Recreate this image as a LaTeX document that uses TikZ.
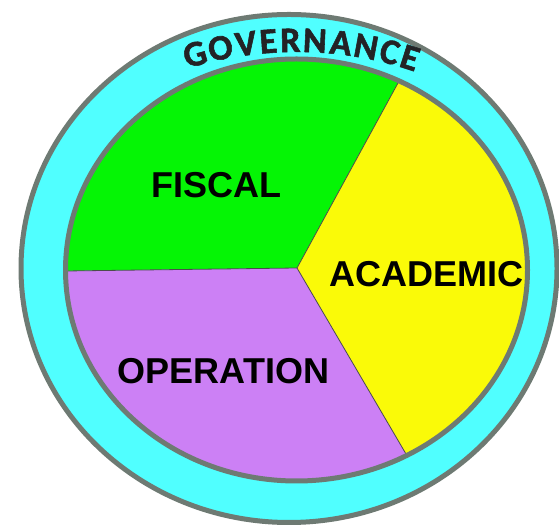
\documentclass[tikz,border=0pt]{standalone}
\usepackage{fontspec}
\setmainfont{Liberation Sans}
\newfontfamily\govfont[BoldFeatures={FakeBold=1.5}]{Carlito}
\usetikzlibrary{calc}
\definecolor{ringcyan}{RGB}{80,255,255}
\definecolor{rimgray}{RGB}{110,122,115}
\definecolor{fiscalgreen}{RGB}{5,245,5}
\definecolor{academicyellow}{RGB}{250,250,8}
\definecolor{operationpurple}{RGB}{204,128,245}
\definecolor{govink}{RGB}{35,35,38}
\begin{document}
\begin{tikzpicture}[x=1pt, y=1pt,
        rim/.style={draw=rimgray, line width=5pt},
        divider/.style={draw=black!70, line width=0.8pt},
        area/.style={font=\bfseries\fontsize{36}{40}\selectfont, inner sep=0pt},
        govletter/.style={font=\govfont\bfseries\fontsize{36}{36}\selectfont, text=govink, inner sep=0pt, anchor=base}]
                    \useasboundingbox (0,0) rectangle (559,526);
                    \path[rim, fill=ringcyan] (289,257.5) ellipse [x radius=268, y radius=254];

                    \coordinate (hub) at (297, 258);
                    \coordinate (rimL) at (66, 255);
                    \coordinate (rimT) at (398, 443);
                    \coordinate (rimB) at (406, 72);

                    \begin{scope}
                        \clip (296.5,256) ellipse [x radius=231, y radius=211];
                        \fill[fiscalgreen] (hub) -- ($(hub)!3!(rimL)$) -- (-400,700) -- ($(hub)!3!(rimT)$) -- cycle;
                        \fill[academicyellow] (hub) -- ($(hub)!3!(rimT)$) -- (1000,813) -- (1000,-300) -- ($(hub)!3!(rimB)$) -- cycle;
                        \fill[operationpurple] (hub) -- ($(hub)!3!(rimB)$) -- (-400,-300) -- ($(hub)!3!(rimL)$) -- cycle;
                    \end{scope}

                    \draw[divider] (hub) -- (rimL);
                    \draw[divider] (hub) -- (rimT);
                    \draw[divider] (hub) -- (rimB);
                    \path[rim] (296.5,256) ellipse [x radius=231, y radius=211];

                    \node[area] (fiscal) at (216.5, 341) {FISCAL};
                    \node[area] (academic) at (426.5, 251.5) {ACADEMIC};
                    \node[area] (operation) at (223.5, 154.5) {OPERATION};

                    \foreach \ch/\t [count=\i] in {G/110.2, O/105.0, V/99.9, E/95.5, R/91.2, N/86.4, A/81.3, N/76.3, C/71.5, E/67.3}
                        \node[govletter, rotate={atan2(-218*cos(\t), 285*sin(\t))}] (gov\i)
                            at ({296.5+285*cos(\t)}, {256+218*sin(\t)}) {\ch};
                \end{tikzpicture}
\end{document}
